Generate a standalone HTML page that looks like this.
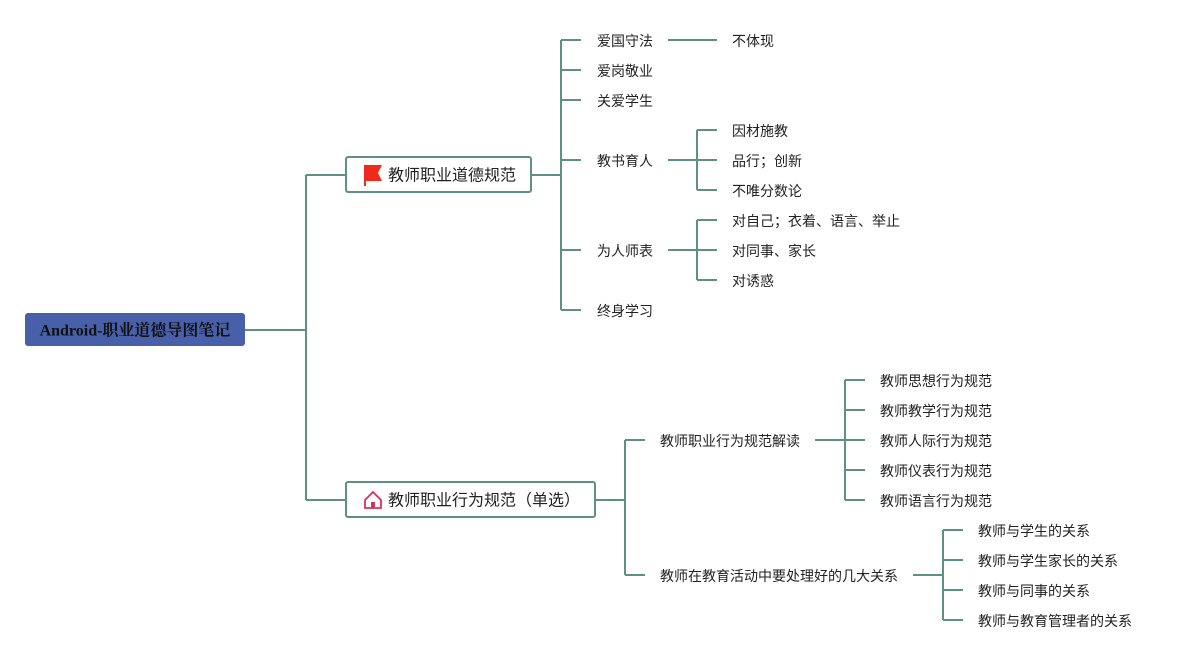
<!DOCTYPE html>
<html><head><meta charset="utf-8"><style>
html,body{margin:0;padding:0;background:#fff;}
svg text{font-family:"Liberation Sans","Noto Sans CJK SC",sans-serif;font-size:14px;fill:#222;dominant-baseline:central;}
</style></head><body>
<svg width="1192" height="660" xmlns="http://www.w3.org/2000/svg">
<g stroke="#5e9183" stroke-width="2" fill="none">
<path d="M245 330H306M306 175V500M306 175H346M306 500H346"/>
<path d="M531 175H561M561 40V310M561 40H581M561 70H581M561 100H581M561 160H581M561 250H581M561 310H581"/>
<path d="M668 40H717"/>
<path d="M668 160H697M697 130V190M697 130H717M697 160H717M697 190H717"/>
<path d="M668 250H697M697 220V280M697 220H717M697 250H717M697 280H717"/>
<path d="M595 500H625M625 440V575M625 440H645M625 575H645"/>
<path d="M815 440H845M845 380V500M845 380H865M845 410H865M845 440H865M845 470H865M845 500H865"/>
<path d="M913 575H943M943 530V620M943 530H963M943 560H963M943 590H963M943 620H963"/>
</g>
<rect x="25" y="313" width="220" height="33" rx="3" fill="#4760a9"/>
<text x="135" y="331" text-anchor="middle" style="font-family:'Liberation Serif','Noto Serif CJK SC',serif;font-weight:bold;font-size:16px;fill:#111">Android-职业道德导图笔记</text>
<rect x="346" y="157" width="185" height="35" rx="2" fill="#fff" stroke="#5e9183" stroke-width="2"/>
<path d="M364 165H382L378 173L382 181H366V186H364Z" fill="#f02a1a"/>
<text x="388" y="176" style="font-size:16px">教师职业道德规范</text>
<rect x="346" y="482" width="249" height="35" rx="2" fill="#fff" stroke="#5e9183" stroke-width="2"/>
<path d="M365 500L373 492L381 500V508H365Z" fill="none" stroke="#d6335a" stroke-width="1.8"/>
<rect x="371" y="502" width="4" height="6" fill="#d6335a"/>
<text x="388" y="501" style="font-size:16px">教师职业行为规范（单选）</text>
<text x="597" y="41">爱国守法</text>
<text x="597" y="71">爱岗敬业</text>
<text x="597" y="101">关爱学生</text>
<text x="597" y="161">教书育人</text>
<text x="597" y="251">为人师表</text>
<text x="597" y="311">终身学习</text>
<text x="732" y="41">不体现</text>
<text x="732" y="131">因材施教</text>
<text x="732" y="161">品行；创新</text>
<text x="732" y="191">不唯分数论</text>
<text x="732" y="221">对自己；衣着、语言、举止</text>
<text x="732" y="251">对同事、家长</text>
<text x="732" y="281">对诱惑</text>
<text x="660" y="441">教师职业行为规范解读</text>
<text x="660" y="576">教师在教育活动中要处理好的几大关系</text>
<text x="880" y="381">教师思想行为规范</text>
<text x="880" y="411">教师教学行为规范</text>
<text x="880" y="441">教师人际行为规范</text>
<text x="880" y="471">教师仪表行为规范</text>
<text x="880" y="501">教师语言行为规范</text>
<text x="978" y="531">教师与学生的关系</text>
<text x="978" y="561">教师与学生家长的关系</text>
<text x="978" y="591">教师与同事的关系</text>
<text x="978" y="621">教师与教育管理者的关系</text>
</svg>
</body></html>
